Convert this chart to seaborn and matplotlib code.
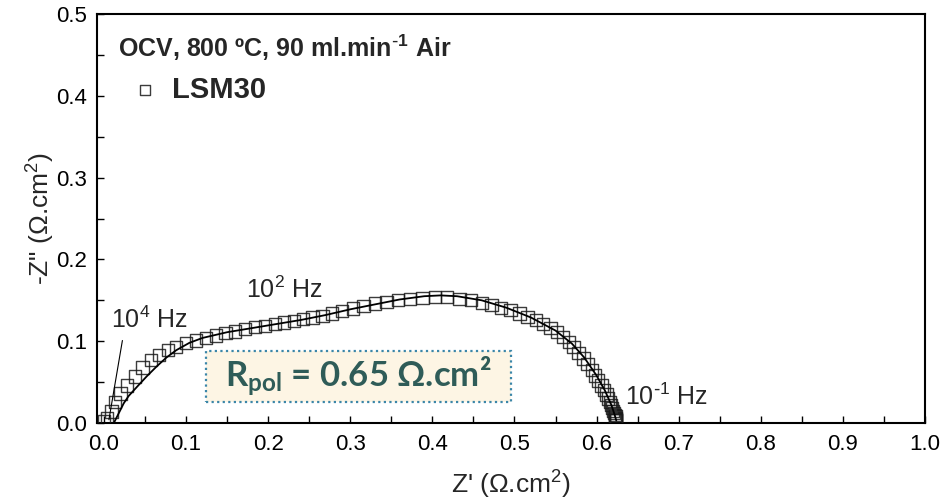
import matplotlib
matplotlib.use("Agg")
import matplotlib.pyplot as plt
from matplotlib.patches import Rectangle
from matplotlib.ticker import MultipleLocator, FormatStrFormatter
import seaborn as sns
import pandas as pd

# Measured impedance spectrum, LSM30 symmetrical cell (Z' and -Z'' in ohm.cm2)
z_real = [0.000, 0.004, 0.009, 0.013, 0.020, 0.028, 0.038, 0.047, 0.057, 0.067,
          0.078, 0.088, 0.100, 0.112, 0.124, 0.136, 0.148, 0.160, 0.172, 0.184,
          0.196, 0.208, 0.219, 0.231, 0.242, 0.254, 0.266, 0.278, 0.290, 0.303,
          0.316, 0.330, 0.344, 0.358, 0.373, 0.388, 0.403, 0.418, 0.433, 0.447,
          0.460, 0.472, 0.484, 0.495, 0.506, 0.516, 0.526, 0.535, 0.544, 0.552,
          0.559, 0.566, 0.572, 0.578, 0.584, 0.589, 0.594, 0.598, 0.602, 0.606,
          0.609, 0.612, 0.614, 0.616, 0.618, 0.619, 0.620, 0.621, 0.622, 0.623,
          0.623, 0.624, 0.624, 0.624]
z_imag = [0.002, 0.006, 0.014, 0.026, 0.036, 0.046, 0.057, 0.068, 0.077, 0.083,
          0.089, 0.093, 0.098, 0.101, 0.104, 0.107, 0.110, 0.112, 0.115, 0.117,
          0.119, 0.121, 0.123, 0.125, 0.127, 0.129, 0.131, 0.134, 0.137, 0.140,
          0.143, 0.146, 0.148, 0.150, 0.152, 0.153, 0.154, 0.154, 0.152, 0.150,
          0.147, 0.144, 0.141, 0.138, 0.134, 0.130, 0.126, 0.121, 0.116, 0.111,
          0.105, 0.099, 0.093, 0.086, 0.079, 0.072, 0.065, 0.058, 0.052, 0.046,
          0.040, 0.035, 0.030, 0.026, 0.022, 0.018, 0.015, 0.012, 0.010, 0.008,
          0.006, 0.005, 0.004, 0.003]

# Equivalent-circuit fit
fit_real = [0.012, 0.018, 0.024, 0.030, 0.040, 0.052, 0.064, 0.076, 0.088, 0.104,
            0.120, 0.150, 0.180, 0.210, 0.240, 0.270, 0.300, 0.330, 0.360, 0.390,
            0.410, 0.430, 0.460, 0.490, 0.520, 0.550, 0.570, 0.585, 0.600, 0.610,
            0.618, 0.622, 0.624]
fit_imag = [0.000, 0.012, 0.024, 0.033, 0.044, 0.057, 0.069, 0.080, 0.089, 0.098,
            0.104, 0.111, 0.116, 0.121, 0.126, 0.132, 0.139, 0.145, 0.151, 0.155,
            0.156, 0.155, 0.150, 0.141, 0.129, 0.113, 0.097, 0.080, 0.058, 0.040,
            0.022, 0.010, 0.003]

r_pol = 0.65

sns.set_style("ticks")
plt.rcParams["font.family"] = ["Liberation Sans", "DejaVu Sans"]
plt.rcParams["mathtext.default"] = "regular"

data = pd.DataFrame({"Zre": z_real, "Zim": z_imag})
fit = pd.DataFrame({"Zre": fit_real, "Zim": fit_imag})

fig = plt.figure(figsize=(9.53, 5.04), dpi=100)
ax = fig.add_axes([0.1018, 0.1607, 0.8688, 0.8115])

sns.scatterplot(data=data, x="Zre", y="Zim", ax=ax, marker="s", s=78,
                facecolor="none", edgecolor="#1a1a1a", linewidth=1.0,
                alpha=0.85, label="LSM30", zorder=3)
sns.lineplot(data=fit, x="Zre", y="Zim", ax=ax, sort=False, color="black",
             linewidth=1.3, zorder=4, legend=False)

ax.set_xlim(-0.0085, 1.0)
ax.set_ylim(0, 0.5)
ax.xaxis.set_major_locator(MultipleLocator(0.1))
ax.xaxis.set_minor_locator(MultipleLocator(0.05))
ax.yaxis.set_major_locator(MultipleLocator(0.1))
ax.yaxis.set_minor_locator(MultipleLocator(0.05))
ax.xaxis.set_major_formatter(FormatStrFormatter("%.1f"))
ax.yaxis.set_major_formatter(FormatStrFormatter("%.1f"))
ax.tick_params(which="both", direction="in", length=5, width=1.0,
               top=False, right=False, labelsize=16, colors="black")
ax.tick_params(axis="x", pad=8)
ax.tick_params(axis="y", pad=7)
for sp in ax.spines.values():
    sp.set_visible(True)
    sp.set_linewidth(1.5)
    sp.set_color("black")

ax.set_xlabel("Z' (\u03a9.cm$^2$)", fontsize=19, labelpad=10)
ax.set_ylabel('-Z" (\u03a9.cm$^2$)', fontsize=19)
ax.yaxis.set_label_coords(-0.048, 0.5)

# Legend and operating conditions
leg = ax.legend(loc="center left", bbox_to_anchor=(0.040, 0.815), frameon=False,
                prop={"weight": "bold", "size": 21}, markerscale=0.85,
                handlelength=1.0, handletextpad=0.42, borderpad=0,
                borderaxespad=0)
ax.text(0.017, 0.447, "OCV, 800 \u00baC, 90 ml.min$^{\\text{-}1}$ Air",
        fontsize=18, fontweight="bold", ha="left", va="baseline")

# Frequency markers
ax.annotate("10$^4$ Hz", xy=(0.006, 0.004), xytext=(0.009, 0.116),
            fontsize=18, ha="left", va="baseline",
            arrowprops=dict(arrowstyle="-", color="black", lw=0.8,
                            shrinkA=3, shrinkB=0, relpos=(0.16, 0.0)))
ax.text(0.173, 0.153, "10$^2$ Hz", fontsize=18, ha="left", va="baseline")
ax.text(0.634, 0.022, "10$^{\\text{-}1}$ Hz", fontsize=18, ha="left",
        va="baseline")

# Polarisation resistance box
ax.add_patch(Rectangle((0.124, 0.026), 0.372, 0.062, facecolor="#fdf5e4",
                       edgecolor="#3b86a8", linewidth=1.6,
                       linestyle=(0, (1, 1.5)), zorder=2))
ax.text(0.31, 0.057, f"R$_{{pol}}$ = {r_pol:.2f} \u03a9.cm\u00b2",
        family=["Lato", "DejaVu Sans"], fontweight="bold", fontsize=25,
        color="#2f5c58", ha="center", va="center", zorder=5)

fig.savefig("out.png", dpi=100)
